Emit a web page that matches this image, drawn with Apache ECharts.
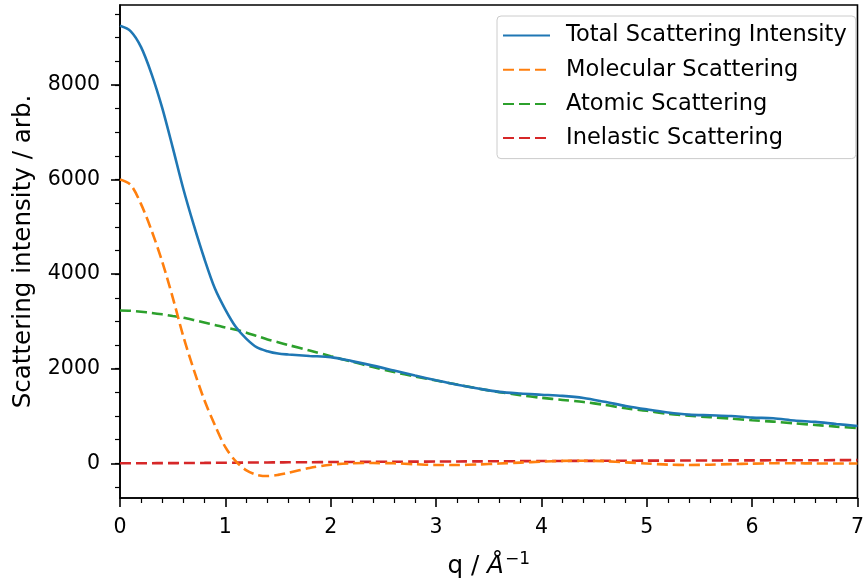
<!DOCTYPE html>
<html>
<head>
<meta charset="utf-8">
<script src="https://cdn.jsdelivr.net/npm/echarts@6/dist/echarts.min.js"></script>
<style>
  html, body { margin: 0; padding: 0; background: #fff; }
  #chart { width: 867px; height: 585px; }
</style>
</head>
<body>
<div id="chart"></div>
<script>
// Scattering vector q (1/Å)
const q = [0, 0.1, 0.2, 0.3, 0.4, 0.5, 0.6, 0.7, 0.8, 0.9, 1.0, 1.1, 1.2, 1.3, 1.4, 1.5, 1.6, 1.8, 2.0, 2.2,
  2.4, 2.6, 2.8, 3.0, 3.2, 3.4, 3.6, 3.8, 4.0, 4.2, 4.4, 4.6, 4.8, 5.0, 5.2, 5.4, 5.6, 5.8, 6.0, 6.2,
  6.4, 6.6, 6.8, 7.0];

const totalIntensity = [9250, 9140, 8800, 8230, 7520, 6680, 5810, 5040, 4330, 3700, 3250, 2880, 2630, 2450, 2370, 2320, 2300, 2270, 2245, 2160,
  2065, 1960, 1855, 1755, 1660, 1580, 1510, 1475, 1450, 1425, 1380, 1300, 1213, 1140, 1075, 1030, 1015, 1000, 965, 952,
  905, 875, 830, 790];

const molecular = [6000, 5890, 5480, 4920, 4270, 3510, 2690, 1980, 1340, 810, 340, 40, -150, -245, -270, -245, -200, -100, -30, 0,
  5, 0, -20, -35, -35, -25, -5, 15, 35, 50, 55, 45, 20, -5, -28, -36, -30, -18, -8, 0,
  0, -3, -5, -5];

const atomic = [3230, 3225, 3205, 3180, 3150, 3115, 3080, 3030, 2975, 2925, 2870, 2825, 2760, 2690, 2620, 2560, 2500, 2385, 2265, 2150,
  2035, 1930, 1835, 1750, 1665, 1580, 1505, 1440, 1385, 1340, 1295, 1235, 1164, 1110, 1045, 1005, 975, 945, 910, 881,
  846, 810, 775, 745];

const inelastic = [0, 1, 1, 2, 3, 4, 5, 7, 8, 10, 12, 13, 15, 16, 18, 19, 21, 23, 26, 28,
  31, 33, 35, 37, 39, 41, 43, 45, 47, 49, 51, 53, 54, 56, 57, 58, 60, 61, 62, 63,
  64, 65, 66, 67];

const yMajorTicks = [0, 2000, 4000, 6000, 8000];
const yMinorTicks = [-500, 0, 500, 1000, 1500, 2000, 2500, 3000, 3500, 4000, 4500, 5000, 5500, 6000, 6500, 7000, 7500, 8000, 8500, 9000, 9500];

const seriesNames = ['Total Scattering Intensity', 'Molecular Scattering', 'Atomic Scattering', 'Inelastic Scattering'];
const seriesValues = [totalIntensity, molecular, atomic, inelastic];
const seriesColors = ['#1f77b4', '#ff7f0e', '#2ca02c', '#d62728'];

const FONT = 'DejaVu Sans';
const INK = '#000';
const TICK_SIZE = 20.5;
const LEGEND_SIZE = 22.5;
const NAME_SIZE = 24.6;

const pairs = vals => q.map((x, i) => [x, vals[i]]);

const chart = echarts.init(document.getElementById('chart'), null, { renderer: 'canvas' });

chart.setOption({
  animation: false,
  backgroundColor: '#fff',
  grid: {
    left: 120, right: 3, top: 5, bottom: 87,
    show: true, borderColor: INK, borderWidth: 1.6, backgroundColor: 'transparent'
  },
  legend: {
    orient: 'vertical',
    left: 497, top: 16,
    padding: [8, 9, 9, 5],
    itemWidth: 47, itemHeight: 14, itemGap: 11.2,
    backgroundColor: 'rgba(255,255,255,0.8)',
    borderColor: '#cccccc', borderWidth: 1, borderRadius: 4,
    itemStyle: { opacity: 0 },
    textStyle: { fontFamily: FONT, fontSize: LEGEND_SIZE, color: INK, lineHeight: 22.5, padding: [0, 0, 0, 11] },
    data: seriesNames
  },
  xAxis: {
    type: 'value',
    min: 0, max: 7, interval: 1,
    name: '{n|q / }{a|Å}{s|−1}',
    nameLocation: 'middle',
    nameGap: 53,
    nameTextStyle: {
      fontFamily: FONT, color: INK,
      rich: {
        n: { fontFamily: FONT, fontSize: NAME_SIZE, color: INK },
        a: { fontFamily: FONT, fontSize: NAME_SIZE, color: INK, fontStyle: 'italic' },
        s: { fontFamily: FONT, fontSize: 17, color: INK, padding: [0, 0, 15, 1] }
      }
    },
    axisLine: { show: true, onZero: false, lineStyle: { color: INK, width: 1.6 } },
    axisTick: { show: true, inside: false, length: 9, lineStyle: { color: INK, width: 1.6 } },
    minorTick: { show: true, splitNumber: 5, length: 5, lineStyle: { color: INK, width: 1.2 } },
    axisLabel: { fontFamily: FONT, fontSize: TICK_SIZE, color: INK, margin: 19 },
    splitLine: { show: false },
    minorSplitLine: { show: false }
  },
  yAxis: [
    {
      type: 'value',
      min: -734, max: 9691,
      name: 'Scattering intensity / arb.',
      nameLocation: 'middle',
      nameGap: 84,
      nameTextStyle: { fontFamily: FONT, fontSize: NAME_SIZE, color: INK },
      axisLine: { show: true, onZero: false, lineStyle: { color: INK, width: 1.6 } },
      axisTick: { show: true, inside: false, length: 9, customValues: yMajorTicks, lineStyle: { color: INK, width: 1.6 } },
      axisLabel: {
        fontFamily: FONT, fontSize: TICK_SIZE, color: INK, margin: 20,
        customValues: yMajorTicks,
        formatter: v => String(v)
      },
      splitLine: { show: false }
    },
    {
      type: 'value',
      position: 'left',
      min: -734, max: 9691,
      axisLine: { show: false },
      axisTick: { show: true, inside: false, length: 5, customValues: yMinorTicks, lineStyle: { color: INK, width: 1.2 } },
      axisLabel: { show: false },
      splitLine: { show: false }
    }
  ],
  series: seriesNames.map((name, i) => ({
    name,
    type: 'line',
    yAxisIndex: 0,
    data: pairs(seriesValues[i]),
    symbol: 'none',
    smooth: 0.3,
    color: seriesColors[i],
    lineStyle: {
      color: seriesColors[i],
      width: 2.6,
      type: i === 0 ? 'solid' : [11, 5]
    },
    z: 10 - i
  }))
});
</script>
</body>
</html>
